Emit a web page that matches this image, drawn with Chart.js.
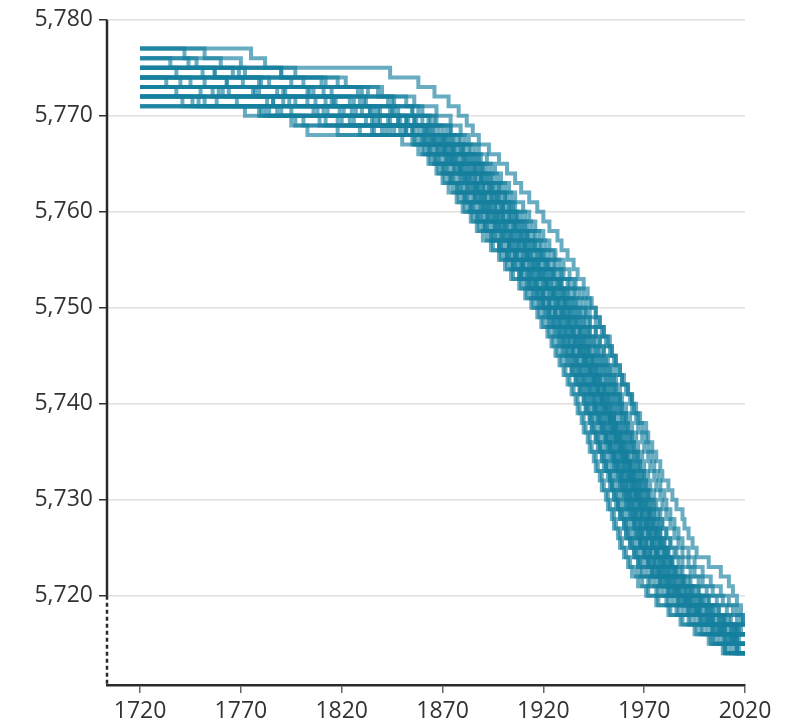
<!DOCTYPE html>
<html>
<head>
<meta charset="utf-8">
<script src="https://cdn.jsdelivr.net/npm/chart.js@4/dist/chart.umd.min.js"></script>
<style>
  html, body { margin: 0; padding: 0; background: #fff; }
  canvas { display: block; }
</style>
</head>
<body>
<canvas id="runs" width="789" height="724"></canvas>
<script>
/************** data ****************/
// tick labels
const xTicks = [1720, 1770, 1820, 1870, 1920, 1970, 2020]
const yTicks = [5720, 5730, 5740, 5750, 5760, 5770, 5780]
const axisBreakAt = 5720
const firstYear = 1720
const lastYear = 2020

// value each run starts at in 1720
const runStart = [5777, 5776, 5777, 5775, 5776, 5774, 5775, 5773, 5774, 5775, 5773,
                  5774, 5772, 5773, 5772, 5774, 5771, 5772, 5771, 5772, 5775, 5773,
                  5776, 5773, 5775, 5772, 5774, 5771, 5777, 5773, 5774, 5772]

// years at which each run drops by one
const run01 = [1775, 1782, 1844, 1858, 1866, 1873, 1878, 1882, 1885, 1888,
  1893, 1898, 1902, 1906, 1909, 1913, 1917, 1920, 1923, 1927, 1929, 1932, 1935, 1937, 1940, 1942, 1944, 1946, 1948, 1950, 1953, 1954, 1956, 1958, 1959, 1962, 1964, 1966, 1968, 1971, 1972, 1974, 1976, 1978, 1979, 1982, 1984, 1986, 1989, 1990, 1992, 1994, 1996, 2002,
  2008, 2012, 2014, 2016, 2018, 2019]
const run02 = [1748, 1790, 1822, 1840, 1852, 1860, 1866, 1874, 1881,
  1886, 1889, 1894, 1897, 1901, 1904, 1906, 1911, 1914, 1918, 1921, 1925, 1928, 1930, 1935, 1938, 1941, 1943, 1946, 1949, 1951, 1953, 1955, 1956, 1959, 1961, 1963, 1964, 1966, 1967, 1969, 1970, 1972, 1973, 1975, 1976, 1978, 1979, 1981, 1983, 1985, 1987, 1989, 1992,
  1995, 1999, 2004, 2009, 2014, 2018]
const run03 = [1742, 1760, 1797, 1818, 1833, 1845, 1855, 1864, 1872, 1878,
  1883, 1887, 1890, 1894, 1898, 1901, 1904, 1907, 1911, 1915, 1918, 1921, 1925, 1928, 1932, 1935, 1937, 1941, 1943, 1946, 1948, 1950, 1952, 1954, 1956, 1958, 1959, 1961, 1963, 1964, 1966, 1967, 1969, 1970, 1972, 1973, 1975, 1976, 1978, 1979, 1981, 1983, 1985, 1987,
  1989, 1993, 1997, 2002, 2007, 2012, 2017]
const run04 = [1766, 1801, 1828, 1843, 1855, 1863, 1870, 1876,
  1881, 1886, 1889, 1892, 1895, 1899, 1903, 1906, 1909, 1912, 1916, 1920, 1923, 1926, 1929, 1933, 1936, 1939, 1941, 1943, 1946, 1948, 1950, 1952, 1954, 1956, 1958, 1959, 1961, 1962, 1964, 1965, 1967, 1968, 1970, 1971, 1973, 1975, 1977, 1979, 1981, 1983, 1986, 1989,
  1993, 1997, 2001, 2006, 2011, 2016]
const run05 = [1735, 1757, 1779, 1806, 1829, 1846, 1857, 1866, 1874,
  1879, 1883, 1887, 1890, 1894, 1897, 1900, 1904, 1907, 1911, 1914, 1918, 1921, 1924, 1928, 1931, 1934, 1937, 1939, 1942, 1944, 1946, 1948, 1950, 1952, 1954, 1956, 1957, 1959, 1960, 1962, 1963, 1965, 1966, 1968, 1969, 1971, 1972, 1973, 1975, 1976, 1978, 1980, 1982,
  1984, 1988, 1992, 1997, 2002, 2008, 2014]
const run06 = [1771, 1804, 1826, 1844, 1856, 1864, 1873,
  1880, 1885, 1890, 1893, 1897, 1901, 1903, 1907, 1910, 1913, 1916, 1919, 1922, 1925, 1928, 1930, 1932, 1934, 1936, 1938, 1940, 1942, 1944, 1946, 1948, 1950, 1952, 1953, 1955, 1956, 1958, 1960, 1961, 1963, 1965, 1966, 1968, 1970, 1972, 1974, 1976, 1978, 1981, 1983,
  1986, 1990, 1995, 2000, 2005, 2010, 2016]
const run07 = [1751, 1780, 1803, 1824, 1839, 1852, 1862, 1871,
  1875, 1880, 1884, 1887, 1890, 1894, 1897, 1900, 1905, 1908, 1911, 1914, 1918, 1921, 1924, 1928, 1931, 1933, 1936, 1939, 1941, 1943, 1945, 1947, 1948, 1951, 1953, 1954, 1955, 1957, 1959, 1960, 1962, 1963, 1964, 1966, 1967, 1969, 1971, 1972, 1974, 1976, 1977, 1979,
  1982, 1985, 1990, 1994, 2000, 2005, 2011, 2017]
const run08 = [1776, 1815, 1838, 1853, 1863, 1870,
  1876, 1881, 1886, 1889, 1893, 1897, 1900, 1903, 1906, 1909, 1911, 1914, 1917, 1919, 1922, 1925, 1927, 1929, 1932, 1934, 1936, 1938, 1941, 1943, 1945, 1947, 1949, 1950, 1953, 1955, 1958, 1959, 1961, 1963, 1965, 1968, 1969, 1971, 1973, 1974, 1977, 1979, 1981, 1983,
  1985, 1989, 1993, 1998, 2003, 2009, 2015]
const run09 = [1752, 1788, 1812, 1836, 1852, 1862, 1869,
  1874, 1877, 1882, 1886, 1888, 1892, 1896, 1899, 1901, 1906, 1910, 1912, 1916, 1920, 1922, 1926, 1930, 1932, 1934, 1938, 1939, 1941, 1944, 1945, 1947, 1950, 1951, 1952, 1954, 1956, 1957, 1958, 1960, 1962, 1963, 1964, 1966, 1968, 1969, 1971, 1972, 1974, 1976, 1979,
  1980, 1983, 1987, 1992, 1997, 2003, 2009, 2015]
const run10 = [1738, 1763, 1792, 1817, 1834, 1848, 1858, 1868,
  1872, 1876, 1881, 1884, 1887, 1891, 1894, 1898, 1902, 1905, 1907, 1912, 1915, 1918, 1921, 1925, 1928, 1931, 1933, 1935, 1938, 1940, 1942, 1944, 1946, 1948, 1950, 1951, 1953, 1954, 1956, 1958, 1959, 1960, 1962, 1964, 1965, 1967, 1968, 1970, 1972, 1974, 1976, 1978,
  1981, 1986, 1990, 1995, 2001, 2007, 2013]
const run11 = [1764, 1797, 1825, 1843, 1856, 1867,
  1871, 1875, 1879, 1883, 1887, 1890, 1893, 1897, 1900, 1904, 1908, 1911, 1914, 1917, 1921, 1924, 1927, 1930, 1932, 1935, 1937, 1939, 1941, 1943, 1945, 1947, 1949, 1950, 1952, 1953, 1955, 1956, 1958, 1959, 1961, 1962, 1963, 1965, 1966, 1968, 1969, 1971, 1973, 1975,
  1977, 1981, 1985, 1990, 1996, 2001, 2007, 2013]
const run12 = [1745, 1777, 1803, 1827, 1844, 1855, 1866,
  1870, 1874, 1878, 1881, 1884, 1887, 1890, 1893, 1896, 1900, 1903, 1907, 1910, 1914, 1917, 1920, 1923, 1926, 1929, 1932, 1935, 1938, 1940, 1943, 1945, 1947, 1949, 1951, 1953, 1955, 1956, 1958, 1960, 1961, 1963, 1965, 1966, 1968, 1969, 1971, 1973, 1974, 1976, 1977,
  1980, 1984, 1988, 1993, 1998, 2004, 2010, 2016]
const run13 = [1768, 1806, 1836, 1852, 1865,
  1869, 1873, 1878, 1881, 1885, 1888, 1891, 1895, 1898, 1902, 1905, 1909, 1912, 1915, 1919, 1922, 1925, 1928, 1930, 1933, 1935, 1937, 1939, 1941, 1943, 1945, 1947, 1948, 1950, 1951, 1953, 1954, 1956, 1957, 1959, 1960, 1962, 1963, 1965, 1966, 1968, 1969, 1971, 1973,
  1975, 1979, 1983, 1988, 1993, 1999, 2005, 2011, 2017]
const run14 = [1756, 1791, 1819, 1838, 1851, 1864,
  1871, 1875, 1879, 1882, 1886, 1889, 1892, 1895, 1898, 1901, 1904, 1906, 1909, 1912, 1915, 1918, 1920, 1923, 1925, 1928, 1930, 1932, 1935, 1937, 1939, 1941, 1943, 1945, 1947, 1949, 1951, 1953, 1955, 1957, 1959, 1961, 1963, 1964, 1966, 1968, 1969, 1971, 1973, 1975,
  1978, 1982, 1986, 1991, 1996, 2002, 2008, 2014]
const run15 = [1749, 1788, 1818, 1840, 1862,
  1867, 1871, 1875, 1878, 1882, 1885, 1888, 1892, 1895, 1899, 1902, 1906, 1909, 1912, 1916, 1919, 1922, 1925, 1927, 1930, 1932, 1934, 1936, 1938, 1940, 1942, 1944, 1945, 1947, 1948, 1950, 1951, 1953, 1954, 1956, 1957, 1959, 1960, 1962, 1964, 1965, 1967, 1969, 1971,
  1973, 1977, 1981, 1986, 1991, 1997, 2003, 2009, 2015]
const run16 = [1733, 1761, 1786, 1808, 1826, 1844, 1861,
  1863, 1866, 1870, 1873, 1877, 1880, 1883, 1887, 1890, 1894, 1898, 1902, 1905, 1909, 1913, 1917, 1920, 1923, 1926, 1929, 1931, 1934, 1936, 1938, 1940, 1943, 1945, 1946, 1948, 1950, 1951, 1953, 1955, 1956, 1958, 1959, 1961, 1962, 1964, 1966, 1967, 1969, 1971, 1973,
  1976, 1980, 1984, 1989, 1994, 2000, 2006, 2012]
const run17 = [1772, 1809, 1835, 1859,
  1864, 1868, 1872, 1875, 1879, 1882, 1885, 1889, 1892, 1896, 1899, 1903, 1906, 1909, 1913, 1916, 1919, 1922, 1924, 1927, 1929, 1931, 1933, 1935, 1937, 1939, 1941, 1942, 1944, 1945, 1947, 1948, 1950, 1951, 1953, 1954, 1955, 1957, 1958, 1960, 1961, 1963, 1965, 1967,
  1969, 1973, 1977, 1982, 1987, 1993, 1999, 2005, 2011]
const run18 = [1741, 1779, 1801, 1829, 1857,
  1861, 1866, 1870, 1874, 1877, 1881, 1884, 1887, 1891, 1894, 1898, 1901, 1904, 1908, 1911, 1914, 1917, 1920, 1922, 1925, 1927, 1929, 1931, 1934, 1936, 1938, 1940, 1941, 1943, 1944, 1946, 1948, 1949, 1951, 1953, 1954, 1956, 1957, 1959, 1961, 1962, 1964, 1966, 1968,
  1971, 1975, 1979, 1984, 1989, 1995, 2001, 2007, 2013]
const run19 = [1784, 1797, 1818, 1855,
  1860, 1864, 1868, 1871, 1875, 1878, 1881, 1885, 1888, 1892, 1895, 1899, 1902, 1905, 1909, 1912, 1915, 1918, 1920, 1923, 1925, 1927, 1929, 1931, 1933, 1935, 1937, 1938, 1940, 1941, 1943, 1944, 1946, 1947, 1949, 1950, 1952, 1953, 1955, 1956, 1958, 1959, 1961, 1963,
  1966, 1969, 1972, 1977, 1983, 1989, 1996, 2003, 2010]
const run20 = [1758, 1780, 1795, 1803, 1850,
  1858, 1863, 1867, 1870, 1873, 1877, 1880, 1884, 1887, 1890, 1894, 1898, 1901, 1904, 1908, 1911, 1914, 1917, 1919, 1922, 1924, 1926, 1928, 1930, 1932, 1934, 1936, 1937, 1939, 1940, 1942, 1943, 1945, 1946, 1948, 1949, 1951, 1952, 1954, 1955, 1957, 1958, 1960, 1962,
  1964, 1967, 1971, 1976, 1982, 1988, 1995, 2002, 2009]
const run21 = [1772, 1810, 1838, 1856, 1867, 1874, 1879, 1883,
  1888, 1892, 1896, 1899, 1903, 1906, 1910, 1913, 1916, 1920, 1923, 1926, 1930, 1933, 1936, 1940, 1943, 1946, 1948, 1950, 1952, 1954, 1956, 1958, 1960, 1962, 1964, 1965, 1967, 1969, 1971, 1972, 1974, 1975, 1977, 1978, 1980, 1981, 1983, 1985, 1987, 1989, 1992, 1995,
  1999, 2003, 2008, 2012, 2016, 2019]
const run22 = [1738, 1783, 1811, 1832, 1849, 1863,
  1868, 1872, 1876, 1880, 1883, 1886, 1890, 1893, 1897, 1900, 1903, 1907, 1910, 1914, 1917, 1920, 1923, 1926, 1928, 1931, 1933, 1935, 1937, 1940, 1942, 1944, 1946, 1947, 1949, 1950, 1952, 1953, 1955, 1956, 1958, 1959, 1961, 1962, 1964, 1965, 1967, 1968, 1970, 1972,
  1974, 1978, 1982, 1987, 1992, 1998, 2004, 2010, 2016]
const run23 = [1744, 1769, 1795, 1815, 1831, 1845, 1856, 1865, 1872,
  1876, 1881, 1885, 1889, 1891, 1895, 1899, 1901, 1905, 1909, 1912, 1916, 1918, 1922, 1926, 1929, 1931, 1935, 1937, 1940, 1942, 1943, 1946, 1948, 1950, 1952, 1954, 1955, 1956, 1958, 1960, 1961, 1962, 1964, 1966, 1967, 1968, 1970, 1972, 1973, 1975, 1977, 1979, 1980,
  1983, 1987, 1991, 1996, 2001, 2007, 2013]
const run24 = [1759, 1794, 1821, 1839, 1855, 1866,
  1873, 1877, 1880, 1884, 1888, 1891, 1894, 1897, 1901, 1904, 1908, 1912, 1915, 1918, 1922, 1925, 1928, 1930, 1933, 1936, 1938, 1940, 1942, 1944, 1946, 1948, 1950, 1951, 1953, 1954, 1956, 1957, 1959, 1960, 1962, 1963, 1965, 1966, 1968, 1970, 1971, 1973, 1975, 1977,
  1978, 1982, 1986, 1991, 1996, 2002, 2008, 2014]
const run25 = [1757, 1784, 1811, 1832, 1848, 1860, 1868, 1875,
  1880, 1884, 1888, 1891, 1895, 1898, 1901, 1905, 1908, 1912, 1915, 1919, 1922, 1925, 1929, 1932, 1935, 1938, 1940, 1943, 1945, 1947, 1949, 1951, 1953, 1955, 1957, 1958, 1960, 1961, 1963, 1964, 1966, 1967, 1969, 1970, 1972, 1973, 1975, 1977, 1978, 1980, 1982, 1984,
  1988, 1992, 1997, 2002, 2007, 2013, 2018]
const run26 = [1752, 1795, 1824, 1846, 1861,
  1867, 1872, 1876, 1879, 1882, 1886, 1889, 1892, 1896, 1899, 1903, 1906, 1910, 1913, 1916, 1920, 1923, 1926, 1928, 1931, 1933, 1935, 1937, 1939, 1941, 1943, 1945, 1946, 1948, 1949, 1951, 1952, 1954, 1955, 1957, 1958, 1960, 1961, 1963, 1965, 1966, 1968, 1970, 1972,
  1977, 1981, 1985, 1990, 1995, 2001, 2007, 2013]
const run27 = [1763, 1791, 1816, 1834, 1849, 1861, 1870,
  1875, 1879, 1883, 1886, 1890, 1894, 1896, 1900, 1903, 1907, 1910, 1913, 1917, 1920, 1924, 1927, 1930, 1933, 1935, 1938, 1940, 1942, 1944, 1946, 1948, 1950, 1952, 1953, 1955, 1956, 1958, 1959, 1961, 1962, 1964, 1965, 1967, 1968, 1970, 1972, 1973, 1975, 1977, 1980,
  1986, 1990, 1994, 1999, 2004, 2010, 2016]
const run28 = [1790, 1820, 1842, 1860,
  1865, 1869, 1873, 1876, 1880, 1883, 1886, 1890, 1893, 1897, 1900, 1904, 1907, 1910, 1914, 1917, 1920, 1923, 1925, 1928, 1930, 1932, 1934, 1936, 1938, 1940, 1942, 1943, 1945, 1946, 1948, 1949, 1951, 1952, 1954, 1955, 1957, 1958, 1960, 1962, 1963, 1965, 1967, 1969,
  1974, 1978, 1982, 1987, 1992, 1998, 2004, 2010, 2016]
const run29 = [1752, 1770, 1790, 1812, 1830, 1846, 1858, 1867, 1874, 1879,
  1884, 1888, 1892, 1895, 1899, 1902, 1905, 1909, 1912, 1916, 1919, 1923, 1926, 1929, 1933, 1936, 1939, 1941, 1943, 1946, 1948, 1950, 1951, 1953, 1955, 1956, 1958, 1959, 1961, 1962, 1964, 1965, 1967, 1968, 1970, 1971, 1972, 1974, 1975, 1977, 1978, 1980, 1982, 1984,
  1985, 1989, 1993, 1998, 2003, 2009, 2015]
const run30 = [1750, 1786, 1813, 1835, 1852, 1865,
  1871, 1874, 1879, 1882, 1886, 1889, 1892, 1896, 1899, 1903, 1906, 1910, 1913, 1916, 1920, 1923, 1926, 1929, 1931, 1934, 1936, 1938, 1940, 1942, 1944, 1946, 1948, 1949, 1951, 1952, 1954, 1955, 1957, 1958, 1960, 1961, 1963, 1964, 1966, 1968, 1969, 1971, 1973, 1975,
  1979, 1983, 1987, 1992, 1997, 2003, 2009, 2015]
const run31 = [1740, 1779, 1807, 1830, 1848, 1860, 1871,
  1878, 1882, 1886, 1889, 1893, 1896, 1899, 1903, 1906, 1910, 1913, 1917, 1920, 1923, 1927, 1930, 1933, 1936, 1938, 1941, 1943, 1945, 1947, 1949, 1951, 1953, 1955, 1956, 1958, 1959, 1961, 1962, 1964, 1965, 1967, 1968, 1970, 1971, 1973, 1975, 1976, 1978, 1980, 1981,
  1982, 1985, 1988, 1993, 1998, 2004, 2010, 2016]
const run32 = [1746, 1782, 1812, 1836, 1856,
  1863, 1867, 1871, 1874, 1878, 1881, 1884, 1888, 1891, 1895, 1898, 1902, 1905, 1908, 1912, 1915, 1918, 1921, 1923, 1926, 1928, 1930, 1932, 1934, 1936, 1938, 1940, 1941, 1943, 1944, 1946, 1947, 1949, 1950, 1952, 1953, 1955, 1956, 1958, 1960, 1961, 1963, 1965, 1967,
  1968, 1972, 1976, 1981, 1986, 1992, 1998, 2004, 2010]

const runDrops = [run01, run02, run03, run04, run05, run06, run07, run08, run09, run10, run11,
                  run12, run13, run14, run15, run16, run17, run18, run19, run20, run21, run22,
                  run23, run24, run25, run26, run27, run28, run29, run30, run31, run32]

/************** build points ****************/
function BuildRun(start, drops) {
    let points = [{ x: firstYear, y: start }]
    drops.forEach((year, i) => {
        points.push({ x: year, y: start - (i + 1) })
    })
    points.push({ x: lastYear, y: start - drops.length })
    return points
}

const lineColor = "rgba(22,127,158,0.65)"
const textColor = "#333333"
const font = { family: "'Open Sans', 'Noto Sans', sans-serif", size: 23 }

const datasets = runDrops.map((drops, i) => ({
    data: BuildRun(runStart[i], drops),
    borderColor: lineColor,
    borderWidth: 4,
    borderJoinStyle: "miter",
    borderCapStyle: "butt",
    pointRadius: 0,
    stepped: true,
    fill: false
}))

/************** y axis with break ****************/
const brokenAxis = {
    id: "brokenAxis",
    afterDraw(chart) {
        const { ctx, chartArea } = chart
        const yBreak = chart.scales.y.getPixelForValue(axisBreakAt)
        const x = chartArea.left
        ctx.save()
        ctx.strokeStyle = "#2a2a2a"
        ctx.lineWidth = 2.5
        ctx.beginPath()
        ctx.moveTo(x, chartArea.top)
        ctx.lineTo(x, yBreak)
        ctx.stroke()
        ctx.setLineDash([4, 3])
        ctx.beginPath()
        ctx.moveTo(x, yBreak)
        ctx.lineTo(x, chartArea.bottom)
        ctx.stroke()
        ctx.restore()
    }
}

/************** chart ****************/
const config = {
    type: "line",
    data: { datasets: datasets },
    options: {
        responsive: false,
        devicePixelRatio: 1,
        animation: false,
        layout: { padding: { top: 15, right: 44, left: 0, bottom: 0 } },
        plugins: {
            legend: { display: false },
            tooltip: { enabled: false }
        },
        scales: {
            x: {
                type: "linear",
                min: 1703.6,
                max: 2020,
                afterBuildTicks: (scale) => { scale.ticks = xTicks.map(v => ({ value: v })) },
                afterFit: (scale) => { scale.height = 39 },
                grid: {
                    drawOnChartArea: false,
                    tickLength: 8,
                    tickColor: "#666",
                    lineWidth: 1.5
                },
                border: { color: "#2a2a2a", width: 2.5 },
                ticks: {
                    autoSkip: false,
                    maxRotation: 0,
                    padding: 5,
                    color: textColor,
                    font: font,
                    callback: (v) => String(v)
                }
            },
            y: {
                type: "linear",
                min: 5710.7,
                max: 5780,
                afterBuildTicks: (scale) => { scale.ticks = yTicks.map(v => ({ value: v })) },
                afterFit: (scale) => { scale.width = 107 },
                grid: {
                    color: "#e0e0e0",
                    lineWidth: 1.5,
                    tickLength: 8,
                    tickColor: "#333",
                    tickWidth: 1.5
                },
                border: { display: false },
                ticks: {
                    padding: 6,
                    color: textColor,
                    font: font,
                    callback: (v) => v.toLocaleString("en-US")
                }
            }
        }
    },
    plugins: [brokenAxis]
}

const runsChart = new Chart(document.getElementById("runs"), config)
</script>
</body>
</html>
